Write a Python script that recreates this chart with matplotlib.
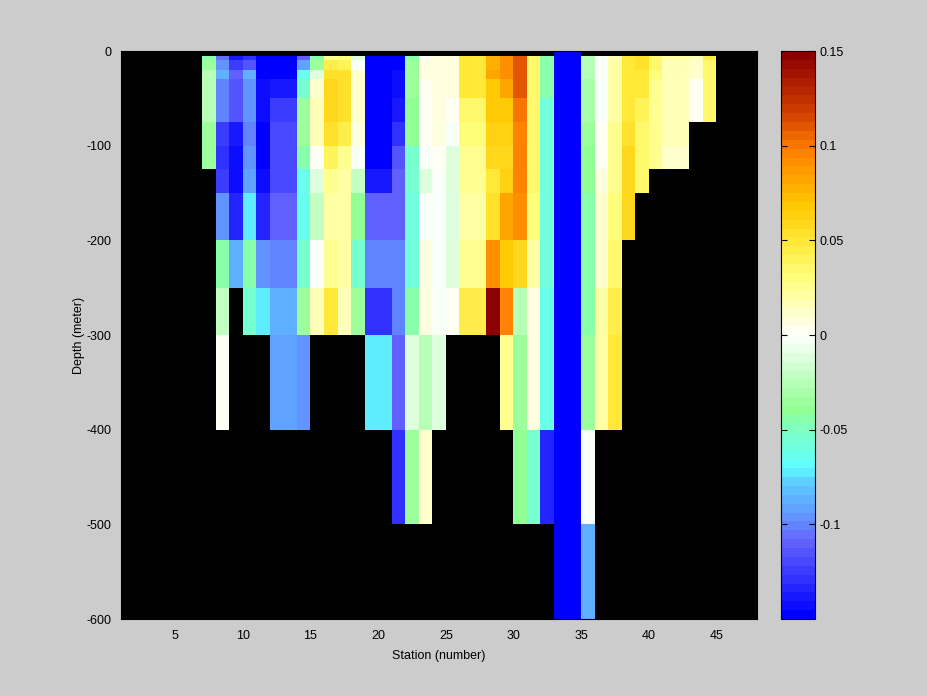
import numpy as np
import matplotlib.pyplot as plt
from matplotlib.colors import LinearSegmentedColormap, ListedColormap

plt.rcParams['font.family'] = ['Liberation Sans', 'DejaVu Sans']
plt.rcParams['axes.unicode_minus'] = False

nan = np.nan

# station cell edges (station s fills s..s+1) and depth cell edges in meter
station_edges = np.arange(1, 49)
depth_edges = [0, 5, 10, 20, 30, 50, 75, 100, 125, 150, 200, 250, 300, 400, 500, 600]

# profiles, one value per depth cell (0-5, 5-10, 10-20, ... 500-600 m)
s07 = [nan, -0.045, -0.035, -0.028, -0.028, -0.028, -0.035, -0.035, nan, nan, nan, nan, nan, nan, nan]
s08 = [nan, -0.105, -0.095, -0.088, -0.1, -0.1, -0.125, -0.13, -0.125, -0.095, -0.045, -0.02, 0.002, nan, nan]
s09 = [nan, -0.137, -0.125, -0.108, -0.115, -0.115, -0.14, -0.143, -0.143, -0.135, -0.088, nan, nan, nan, nan]
s10 = [nan, -0.13, -0.115, -0.088, -0.095, -0.095, -0.1, -0.098, -0.09, -0.073, -0.045, -0.055, nan, nan, nan]
s11 = [nan, -0.15, -0.15, -0.15, -0.145, -0.145, -0.15, -0.15, -0.145, -0.135, -0.095, -0.073, nan, nan, nan]
s12 = [nan, -0.15, -0.15, -0.15, -0.138, -0.125, -0.118, -0.118, -0.118, -0.11, -0.1, -0.088, -0.092, nan, nan]
s13 = [nan, -0.15, -0.15, -0.15, -0.138, -0.125, -0.118, -0.118, -0.118, -0.11, -0.1, -0.088, -0.092, nan, nan]
s14 = [nan, -0.11, -0.092, -0.062, -0.055, -0.035, -0.035, -0.045, -0.062, -0.062, -0.055, -0.035, -0.097, nan, nan]
s15 = [nan, -0.045, -0.035, -0.01, 0.012, 0.015, 0.015, 0.0, -0.012, -0.02, -0.003, 0.015, nan, nan, nan]
s16 = [nan, 0.028, 0.045, 0.055, 0.057, 0.057, 0.052, 0.042, 0.028, 0.02, 0.028, 0.047, nan, nan, nan]
s17 = [nan, 0.03, 0.042, 0.052, 0.052, 0.052, 0.045, 0.028, 0.02, 0.02, 0.02, 0.015, nan, nan, nan]
s18 = [nan, -0.01, -0.003, 0.012, 0.012, 0.012, 0.007, -0.003, -0.02, -0.042, -0.055, -0.035, nan, nan, nan]
s19 = [nan, -0.15, -0.15, -0.15, -0.15, -0.15, -0.15, -0.15, -0.138, -0.11, -0.102, -0.13, -0.073, nan, nan]
s20 = [nan, -0.15, -0.15, -0.15, -0.15, -0.15, -0.15, -0.15, -0.138, -0.11, -0.102, -0.13, -0.073, nan, nan]
s21 = [nan, -0.15, -0.15, -0.143, -0.143, -0.138, -0.128, -0.115, -0.108, -0.11, -0.1, -0.1, -0.11, -0.13, nan]
s22 = [nan, -0.045, -0.035, -0.035, -0.035, -0.04, -0.04, -0.055, -0.055, -0.058, -0.058, -0.045, -0.01, -0.035, nan]
s23 = [nan, 0.002, 0.006, 0.006, 0.0, 0.0, 0.0, -0.004, -0.01, -0.002, 0.007, 0.007, -0.025, 0.012, nan]
s24 = [nan, 0.005, 0.007, 0.007, 0.005, 0.005, 0.005, 0.0, -0.002, -0.002, -0.002, -0.002, -0.012, nan, nan]
s25 = [nan, 0.007, 0.007, 0.007, 0.007, 0.003, -0.003, -0.01, -0.01, -0.01, -0.01, 0.003, nan, nan, nan]
s26 = [nan, 0.05, 0.05, 0.05, 0.048, 0.035, 0.032, 0.024, 0.024, 0.022, 0.024, 0.045, nan, nan, nan]
s27 = [nan, 0.05, 0.05, 0.05, 0.048, 0.035, 0.032, 0.024, 0.024, 0.022, 0.024, 0.045, nan, nan, nan]
s28 = [nan, 0.078, 0.078, 0.08, 0.07, 0.068, 0.062, 0.057, 0.05, 0.052, 0.092, 0.148, nan, nan, nan]
s29 = [nan, 0.092, 0.092, 0.092, 0.08, 0.07, 0.064, 0.057, 0.065, 0.083, 0.07, 0.098, 0.028, nan, nan]
s30 = [nan, 0.11, 0.11, 0.11, 0.11, 0.1, 0.097, 0.097, 0.095, 0.09, 0.057, -0.025, -0.033, -0.04, nan]
s31 = [nan, 0.035, 0.035, 0.035, 0.035, 0.035, 0.035, 0.035, 0.035, 0.032, 0.02, 0.007, 0.006, -0.055, nan]
s32 = [nan, -0.045, -0.045, -0.045, -0.045, -0.058, -0.058, -0.058, -0.058, -0.058, -0.06, -0.062, -0.062, -0.135, nan]
s33 = [-0.15] * 15
s34 = [-0.15] * 15
s35 = [nan, -0.025, -0.025, -0.025, -0.03, -0.03, -0.035, -0.04, -0.042, -0.045, -0.045, -0.045, -0.035, -0.003, -0.088]
s36 = [nan, -0.002, -0.002, -0.003, -0.003, -0.003, 0.003, 0.003, 0.007, 0.01, 0.01, 0.02, 0.022, nan, nan]
s37 = [nan, 0.015, 0.02, 0.02, 0.02, 0.02, 0.024, 0.028, 0.028, 0.03, 0.035, 0.045, 0.05, nan, nan]
s38 = [nan, 0.05, 0.05, 0.05, 0.05, 0.05, 0.052, 0.057, 0.058, 0.06, nan, nan, nan, nan, nan]
s39 = [nan, 0.052, 0.052, 0.05, 0.047, 0.04, 0.036, 0.036, 0.036, nan, nan, nan, nan, nan, nan]
s40 = [nan, 0.036, 0.036, 0.032, 0.028, 0.028, 0.028, 0.028, nan, nan, nan, nan, nan, nan, nan]
s41 = [nan, 0.02, 0.015, 0.015, 0.015, 0.015, 0.015, 0.013, nan, nan, nan, nan, nan, nan, nan]
s42 = [nan, 0.02, 0.015, 0.015, 0.015, 0.015, 0.015, 0.013, nan, nan, nan, nan, nan, nan, nan]
s43 = [nan, 0.015, 0.01, 0.01, 0.004, 0.004, nan, nan, nan, nan, nan, nan, nan, nan, nan]
s44 = [nan, 0.045, 0.036, 0.036, 0.036, 0.036, nan, nan, nan, nan, nan, nan, nan, nan, nan]

profiles = [s07, s08, s09, s10, s11, s12, s13, s14, s15, s16, s17, s18, s19, s20,
            s21, s22, s23, s24, s25, s26, s27, s28, s29, s30, s31, s32, s33, s34,
            s35, s36, s37, s38, s39, s40, s41, s42, s43, s44]
first_station = 7

cbar_ticks = [-0.1, -0.05, 0, 0.05, 0.1, 0.15]
cbar_labels = ['-0.1', '-0.05', '0', '0.05', '0.1', '0.15']

# grid: rows = depth cells, columns = stations 1..47 (nan = no data -> black)
values = np.full((len(depth_edges) - 1, len(station_edges) - 1), nan)
for i, prof in enumerate(profiles):
    values[:, first_station - 1 + i] = prof

# blue - cyan - green - white - yellow - orange - dark red, 64 steps like matlab
anchors = [
    (0.0, (0.0, 0.0, 1.0)),
    (0.133, (0.4, 0.4, 1.0)),
    (0.167, (0.38, 0.56, 1.0)),
    (0.233, (0.37, 0.8, 1.0)),
    (0.267, (0.37, 1.0, 1.0)),
    (0.3, (0.44, 1.0, 0.88)),
    (0.333, (0.5, 1.0, 0.75)),
    (0.367, (0.57, 1.0, 0.57)),
    (0.5, (1.0, 1.0, 1.0)),
    (0.6, (1.0, 1.0, 0.5)),
    (0.667, (1.0, 0.91, 0.22)),
    (0.733, (1.0, 0.78, 0.0)),
    (0.833, (1.0, 0.5, 0.0)),
    (0.9, (0.82, 0.24, 0.0)),
    (1.0, (0.55, 0.0, 0.0)),
]
smooth = LinearSegmentedColormap.from_list('bwr_custom', anchors)
cmap = ListedColormap(smooth(np.linspace(0, 1, 64)))

fig = plt.figure(figsize=(9.28, 6.96), dpi=100, facecolor='#cccccc')
ax = fig.add_axes([121 / 928, 77 / 696, 636 / 928, 568 / 696])
ax.set_facecolor('black')

mesh = ax.pcolormesh(station_edges, -np.array(depth_edges), values,
                     cmap=cmap, vmin=-0.15, vmax=0.15)
ax.set_xlim(1, 48)
ax.set_ylim(-600, 0)
ax.set_xticks(range(5, 46, 5))
ax.set_yticks(range(-600, 1, 100))
ax.tick_params(axis='x', length=0, labelsize=9, pad=8)
ax.tick_params(axis='y', length=0, labelsize=9, pad=7)
ax.set_xlabel('Station (number)', fontsize=9, labelpad=6)
ax.set_ylabel('Depth (meter)', fontsize=9, labelpad=1)

cax = fig.add_axes([781 / 928, 77 / 696, 34 / 928, 568 / 696])
cb = fig.colorbar(mesh, cax=cax)
cb.set_ticks(cbar_ticks)
cb.set_ticklabels(cbar_labels)
cax.tick_params(direction='in', left=True, right=True, labelsize=9, length=4, pad=3)
cb.outline.set_edgecolor('black')

fig.savefig('out.png', dpi=100, facecolor=fig.get_facecolor())
